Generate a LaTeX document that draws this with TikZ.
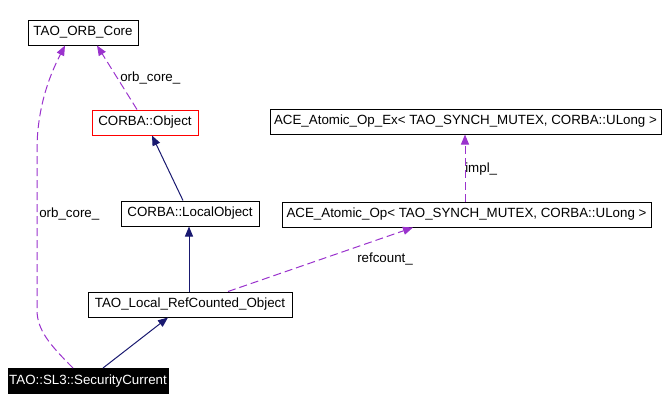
\documentclass[tikz,border=0pt]{standalone}
\usepackage{fontspec}
\setmainfont{Liberation Sans}
\usetikzlibrary{arrows.meta,calc}
\definecolor{edgepurple}{HTML}{9A32CD}
\definecolor{edgenavy}{HTML}{191970}
\begin{document}
\begin{tikzpicture}[x=0.75pt,y=-0.75pt,
  every node/.style={font=\fontsize{10pt}{12pt}\selectfont},
  classbox/.style={draw=black,line width=0.75pt,inner sep=0pt,minimum height=18.75pt},
  lbl/.style={inner sep=0pt,anchor=west},
  usage/.style={draw=edgepurple,line width=0.75pt,dash pattern=on 6pt off 3pt,
    -{Triangle[length=7.5pt,width=6pt]}},
  inherit/.style={draw=edgenavy,line width=0.75pt,
    -{Triangle[length=7.5pt,width=6pt]}}]
\useasboundingbox (0,0) rectangle (668,411);
% nodes
\node[classbox,minimum width=82.5pt] (orb) at (83,32.5) {TAO\_ORB\_Core};
\node[classbox,draw=red,minimum width=79.5pt] (obj) at (145,122.5) {CORBA::Object};
\node[classbox,minimum width=103.5pt] (local) at (190,213.5) {CORBA::LocalObject};
\node[classbox,minimum width=153pt] (ref) at (190,304.5) {TAO\_Local\_RefCounted\_Object};
\node[classbox,fill=black,text=white,minimum width=120pt] (sec) at (88,381) {TAO::SL3::SecurityCurrent};
\node[classbox,minimum width=293.25pt] (ex) at (465.5,121.5) {ACE\_Atomic\_Op\_Ex< TAO\_SYNCH\_MUTEX, CORBA::ULong >};
\node[classbox,minimum width=276.75pt] (op) at (466.5,214.5) {ACE\_Atomic\_Op< TAO\_SYNCH\_MUTEX, CORBA::ULong >};
% labels
\node[lbl] (l1) at (120,78) {orb\_core\_};
\node[lbl] (l2) at (39,214) {orb\_core\_};
\node[lbl] (l3) at (465,169) {impl\_};
\node[lbl] (l4) at (357,259) {refcount\_};
% edges
\draw[usage] ($(obj.north)+(-8,0)$) -- ($(orb.south)+(14,0)$);
\draw[usage] ($(sec.north)+(-15,0)$) .. controls (50,345) and (37,330) .. (37,310)
  -- (37,150) .. controls (37,100) and (55,65) .. ($(orb.south)+(-18,0)$);
\draw[inherit] ($(local.north)+(-7,0)$) -- ($(obj.south)+(7,0)$);
\draw[inherit] ($(ref.north)+(-1,0)$) -- ($(local.south)+(-1,0)$);
\draw[inherit] ($(sec.north)+(15,0)$) -- ($(ref.south)+(-22,0)$);
\draw[usage] ($(ref.north)+(38,0)$) -- ($(op.south)+(-53.5,0)$);
\draw[usage] ($(op.north)+(-1.5,0)$) -- ($(ex.south)+(-0.5,0)$);
\end{tikzpicture}
\end{document}
